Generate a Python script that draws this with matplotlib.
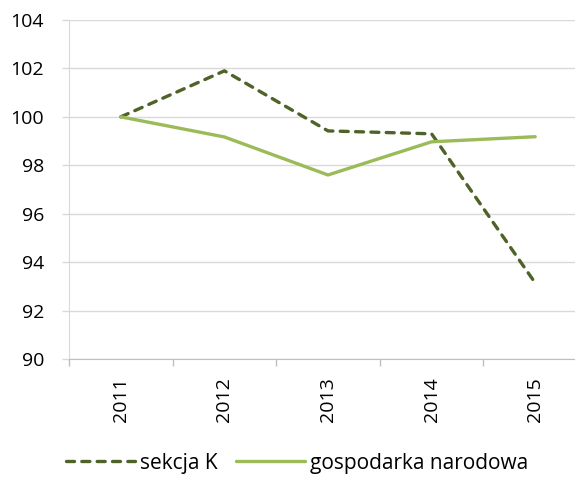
import matplotlib
matplotlib.use("Agg")
import matplotlib.pyplot as plt
from matplotlib.ticker import FixedLocator

years = ['2011', '2012', '2013', '2014', '2015']
sekcja_k = [100.0, 101.9, 99.42, 99.3, 93.14]
gospodarka = [100.0, 99.17, 97.6, 98.97, 99.18]

plt.rcParams['font.family'] = ['Open Sans', 'DejaVu Sans']

fig = plt.figure(figsize=(5.75, 4.84), dpi=100)
ax = fig.add_axes([69 / 575, 1 - 359 / 484, 518 / 575, 339 / 484])

x = list(range(len(years)))
ax.plot(x, sekcja_k, color='#4f6228', lw=2.4, ls=(0, (2.4, 2.2)),
        solid_capstyle='round', dash_capstyle='round', label='sekcja K', zorder=3)
ax.plot(x, gospodarka, color='#9bbb59', lw=2.4, solid_capstyle='round',
        label='gospodarka narodowa', zorder=3)

ax.set_xlim(-0.5, len(years) - 0.5)
ax.set_ylim(90, 104)
ax.set_yticks(range(90, 105, 2))
ax.set_xticks(x)
ax.set_xticklabels(years, rotation=90, fontsize=14)
ax.xaxis.set_minor_locator(FixedLocator([i - 0.5 for i in range(len(years) + 1)]))
ax.tick_params(axis='x', which='major', length=0, pad=13)
ax.tick_params(axis='x', which='minor', length=5, color='#bfbfbf', width=1)
ax.tick_params(axis='y', length=5, color='#d9d9d9', width=1, labelsize=14, pad=13)

ax.grid(axis='y', color='#d9d9d9', lw=1)
ax.set_axisbelow(True)
for s in ['top', 'right']:
    ax.spines[s].set_visible(False)
ax.spines['left'].set_color('#d9d9d9')
ax.spines['bottom'].set_color('#bfbfbf')

fig.legend(loc='center', bbox_to_anchor=(0.517, 1 - 463 / 484), ncol=2, frameon=False,
           fontsize=15, handlelength=3.3, handletextpad=0.25, columnspacing=0.9)

fig.savefig('out.png', dpi=100)
